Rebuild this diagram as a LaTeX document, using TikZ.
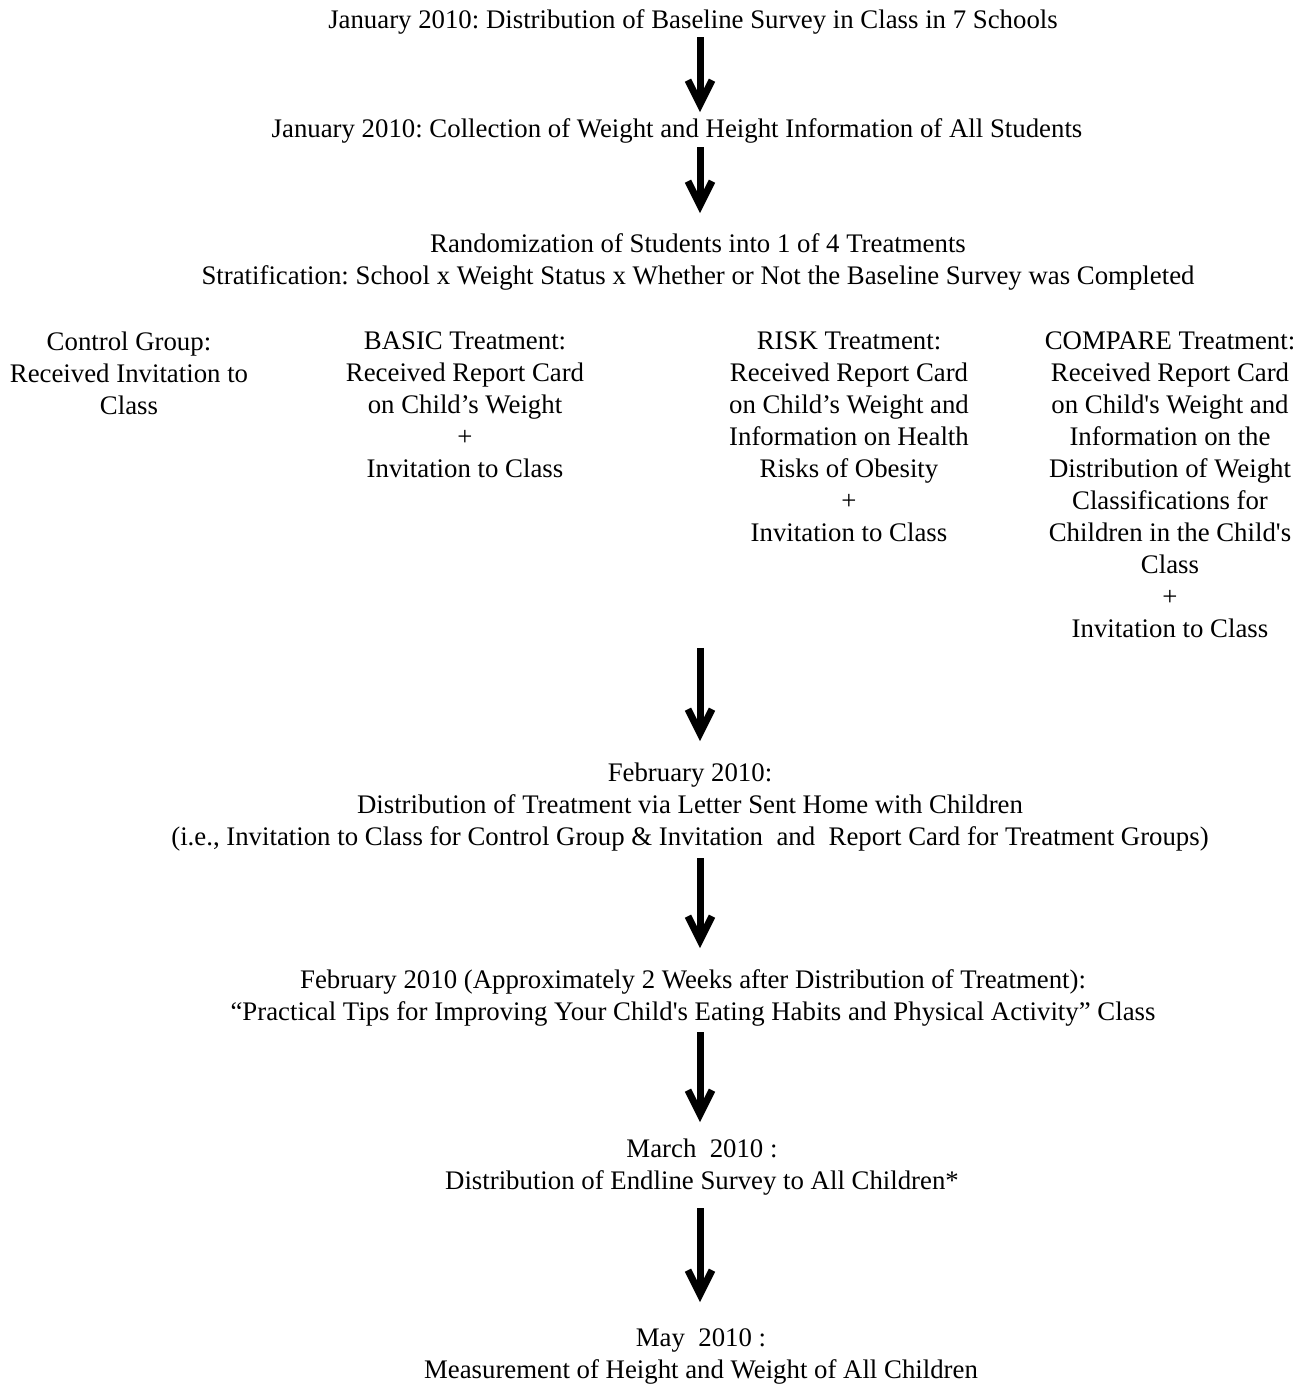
\documentclass[tikz,border=0pt]{standalone}
\usepackage{fontspec}
\setmainfont{Liberation Serif}
\frenchspacing
\usetikzlibrary{positioning, arrows.meta}

\begin{document}
\begin{tikzpicture}[x=0.5pt, y=-0.5pt, txt/.style={align=center, inner sep=0pt, anchor=north, font=\fontsize{13.4pt}{16pt}\selectfont}, flow/.style={-{Straight Barb[length=12pt, width=12pt]}, line width=3.5pt}]

\useasboundingbox (0,0) rectangle (1300,1389);

\coordinate (axis) at (700,0);

\node[txt] at (693,9) (jan1) {January 2010: Distribution of Baseline Survey in Class in 7 Schools};
\node[txt] at (677,118) (jan2) {January 2010: Collection of Weight and Height Information of All Students};

\node[txt] at (698,233) (rand) {Randomization of Students into 1 of 4 Treatments\\Stratification: School x Weight Status x Whether or Not the Baseline Survey was Completed};

\node[txt] at (129,331) (ctrl) {Control Group:\\Received Invitation to\\Class};
\node[txt] at (465,331) (basic) {BASIC Treatment:\\Received Report Card\\on Child's Weight\\+\\Invitation to Class};
\node[txt] at (849,331) (risk) {RISK Treatment:\\Received Report Card\\on Child's Weight and\\Information on Health\\Risks of Obesity\\+\\Invitation to Class};
\node[txt] at (1170,331) (compare) {COMPARE Treatment:\\Received Report Card\\on Child\textquotesingle s Weight and\\Information on the\\Distribution of Weight\\Classifications for\\Children in the Child\textquotesingle s\\Class\\+\\Invitation to Class};

\node[txt] at (690,762) (feb1) {February 2010:\\Distribution of Treatment via Letter Sent Home with Children\\(i.e., Invitation to Class for Control Group \& Invitation\ \ and\ \ Report Card for Treatment Groups)};
\node[txt] at (693,969) (feb2) {February 2010 (Approximately 2 Weeks after Distribution of Treatment):\\``Practical Tips for Improving Your Child\textquotesingle s Eating Habits and Physical Activity'' Class};
\node[txt] at (702,1138) (mar) {March\ \ 2010 :\\Distribution of Endline Survey to All Children*};
\node[txt] at (701,1328) (may) {May\ \ 2010 :\\Measurement of Height and Weight of All Children};

\draw[flow, shorten <=1.5pt, shorten >=3pt] (axis |- jan1.south) -- (axis |- jan2.north);
\draw[flow, shorten <=2pt, shorten >=10pt] (axis |- jan2.south) -- (axis |- rand.north);
\draw[flow, shorten <=5pt, shorten >=10.5pt] (axis |- compare.south) -- (axis |- feb1.north);
\draw[flow, shorten <=3.5pt, shorten >=10.5pt] (axis |- feb1.south) -- (axis |- feb2.north);
\draw[flow, shorten <=3pt, shorten >=8pt] (axis |- feb2.south) -- (axis |- mar.north);
\draw[flow, shorten <=6.5pt, shorten >=13pt] (axis |- mar.south) -- (axis |- may.north);
\end{tikzpicture}
\end{document}
